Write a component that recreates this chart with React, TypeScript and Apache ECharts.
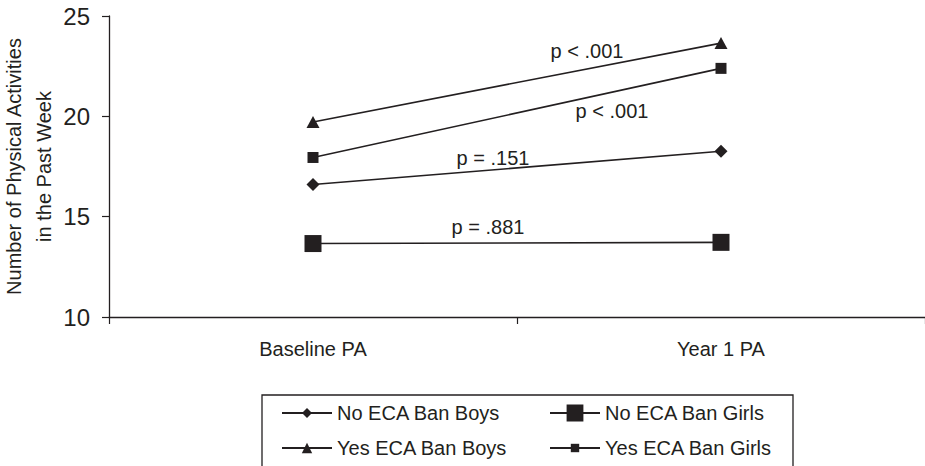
import React, { useEffect, useRef } from "react";
import * as echarts from "echarts";

const categories = ["Baseline PA", "Year 1 PA"];
const noBanBoys = [16.6, 18.26];
const noBanGirls = [13.66, 13.72];
const yesBanBoys = [19.72, 23.65];
const yesBanGirls = [17.95, 22.39];
const yTicks = { min: 10, max: 25, interval: 5 };
const pLabels = ["p < .001", "p < .001", "p = .151", "p = .881"];

const INK = "#231f20";
const FONT = "'Liberation Sans', Arial, Helvetica, sans-serif";

export default function App() {
  const ref = useRef<HTMLDivElement>(null);
  useEffect(() => {
    if (!ref.current) return;
    const chart = echarts.init(ref.current, undefined, { renderer: "svg" });
    const mkSeries = (name: string, data: number[], symbol: string, size: any) => ({
      name,
      type: "line",
      data,
      symbol,
      symbolSize: size,
      showAllSymbol: true,
      lineStyle: { color: INK, width: 1.6 },
      itemStyle: { color: INK, borderWidth: 0 },
      emphasis: { disabled: true },
      z: 3,
    });
    const legendBase = {
      orient: "horizontal",
      padding: 0,
      itemWidth: 50,
      itemGap: 5,
      textStyle: { color: INK, fontSize: 20, fontFamily: FONT },
      selectedMode: false,
    };
    const pText = (text: string, x: number, y: number) => ({
      type: "text",
      x,
      y,
      style: {
        text,
        fill: INK,
        font: `20px ${FONT}`,
        textAlign: "center",
        textVerticalAlign: "middle",
      },
      z: 10,
    });
    chart.setOption({
      animation: false,
      textStyle: { fontFamily: FONT },
      grid: {
        left: 109,
        right: 0,
        top: 16,
        bottom: 149,
        containLabel: false,
        outerBoundsMode: "none",
      },
      xAxis: {
        type: "category",
        data: categories,
        boundaryGap: true,
        axisLine: { lineStyle: { color: INK, width: 1.3 } },
        axisTick: { show: true, length: 7, lineStyle: { color: INK, width: 1.2 } },
        axisLabel: { color: INK, fontSize: 20, fontFamily: FONT, margin: 22 },
        splitLine: { show: false },
      },
      yAxis: {
        type: "value",
        min: yTicks.min,
        max: yTicks.max,
        interval: yTicks.interval,
        name: "Number of Physical Activities\nin the Past Week",
        nameLocation: "middle",
        nameGap: 50,
        nameMoveOverlap: false,
        nameRotate: 90,
        nameTextStyle: { color: INK, fontSize: 20, fontFamily: FONT, lineHeight: 30 },
        axisLine: { show: true, lineStyle: { color: INK, width: 1.3 } },
        axisTick: { show: true, length: 7, lineStyle: { color: INK, width: 1.2 } },
        axisLabel: { color: INK, fontSize: 24, fontFamily: FONT, margin: 19 },
        splitLine: { show: false },
      },
      legend: [
        { ...legendBase, data: ["No ECA Ban Boys"], left: 281, top: 403, itemHeight: 12.5 },
        { ...legendBase, data: ["No ECA Ban Girls"], left: 549, top: 403, itemHeight: 21 },
        { ...legendBase, data: ["Yes ECA Ban Boys"], left: 281, top: 438, itemHeight: 13 },
        { ...legendBase, data: ["Yes ECA Ban Girls"], left: 549, top: 438, itemHeight: 10.5 },
      ],
      graphic: [
        {
          type: "rect",
          shape: { x: 262, y: 395, width: 531, height: 120 },
          style: { fill: "none", stroke: INK, lineWidth: 1.3 },
          z: 1,
        },
        pText(pLabels[0], 587, 51),
        pText(pLabels[1], 612, 111),
        pText(pLabels[2], 493, 158),
        pText(pLabels[3], 488, 227),
      ],
      series: [
        mkSeries("No ECA Ban Boys", noBanBoys, "diamond", 13),
        mkSeries("No ECA Ban Girls", noBanGirls, "rect", 17),
        mkSeries("Yes ECA Ban Boys", yesBanBoys, "triangle", [13, 12]),
        mkSeries("Yes ECA Ban Girls", yesBanGirls, "rect", 11),
      ],
    });
    return () => chart.dispose();
  }, []);
  return (
    <div
      ref={ref}
      style={{ position: "fixed", left: 0, top: 0, width: 925, height: 466, background: "#fff" }}
    />
  );
}
